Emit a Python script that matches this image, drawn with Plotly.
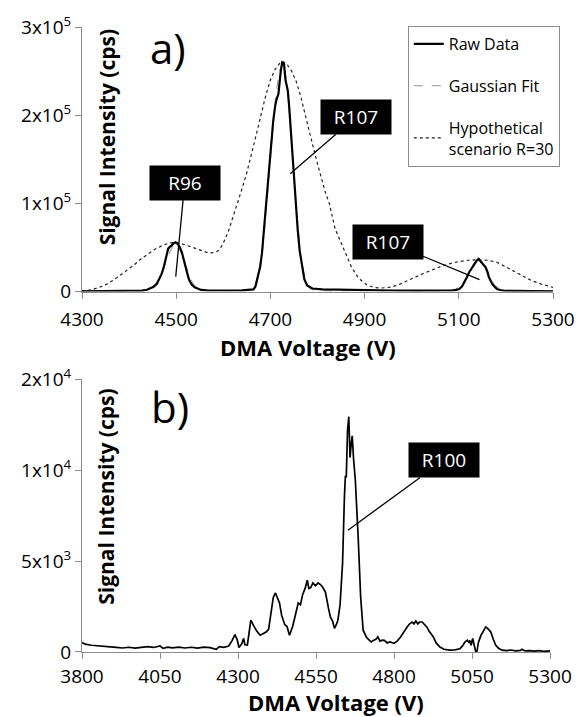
import plotly.graph_objects as go

# ---------------- Panel a) : DMA voltage scan, three mobility peaks ----------------
A_RAW_V = [4300, 4320, 4340, 4360, 4380, 4400, 4415, 4428, 4438, 4445, 4452, 4459, 4464,
           4469, 4473, 4476, 4480, 4483, 4487, 4490, 4494, 4499, 4503, 4508, 4512, 4515,
           4518, 4521, 4525, 4528, 4533, 4539, 4546, 4553, 4565, 4580, 4600, 4620, 4640,
           4650, 4657, 4664, 4668, 4671, 4675, 4678, 4682, 4685, 4689, 4692, 4696, 4699,
           4703, 4706, 4710, 4713, 4717, 4719, 4722, 4725, 4729, 4732, 4735, 4737, 4740,
           4744, 4747, 4751, 4754, 4758, 4762, 4767, 4772, 4778, 4789, 4810, 4840, 4880,
           4920, 4960, 5000, 5040, 5070, 5087, 5095, 5101, 5107, 5112, 5117, 5122, 5128,
           5133, 5138, 5142, 5146, 5150, 5154, 5157, 5161, 5164, 5168, 5171, 5176, 5181,
           5188, 5195, 5220, 5250, 5280, 5300]
A_RAW_I = [300, 400, 350, 500, 450, 600, 700, 1100, 2000, 3400, 5500, 8700, 13500,
           20000, 26500, 33200, 42000, 48700, 51000, 52000, 54500, 55800, 54000, 50000, 44500, 37400,
           30500, 23800, 17500, 12500, 8000, 4900, 3000, 1900, 1300, 1100, 1000, 1200, 1300,
           1900, 2200, 2500, 5500, 12500, 19000, 27500, 43000, 61500, 84000, 106800, 130000, 152000,
           174000, 193700, 210000, 218000, 224000, 239000, 250000, 259700, 258000, 240000, 232000, 227600, 208700,
           178600, 150000, 120000, 95000, 70000, 47000, 28000, 14000, 7000, 3500, 2600, 2200, 2000,
           1500, 1200, 1000, 1000, 1100, 1300, 2000, 3000, 6000, 10500, 16000, 21900, 27000,
           31400, 35000, 37000, 34500, 31400, 30000, 27500, 22000, 16200, 12000, 8700, 5500, 3000,
           1800, 1100, 700, 500, 400, 350]

A_FIT_V = [4300, 4420, 4440, 4455, 4465, 4475, 4485, 4492, 4498, 4504, 4511, 4521, 4531,
           4541, 4556, 4580, 4640, 4660, 4670, 4680, 4690, 4700, 4710, 4718, 4727, 4736,
           4744, 4754, 4764, 4774, 4784, 4794, 4820, 5060, 5090, 5105, 5115, 5125, 5133,
           5141, 5149, 5157, 5167, 5177, 5192, 5220, 5300]
A_FIT_I = [800, 900, 2500, 8000, 16000, 28500, 43000, 51500, 55500, 52000, 43000, 27000, 13500,
           5500, 1800, 900, 900, 1500, 6000, 30000, 85000, 155000, 215000, 248000, 260000, 235000,
           178000, 100000, 42000, 13000, 3500, 1500, 900, 900, 1800, 6500, 15000, 26000, 33000,
           36500, 33500, 26000, 15000, 6500, 1800, 900, 800]

A_HYPO_V = [4300, 4320, 4337, 4355, 4372, 4390, 4410, 4425, 4440, 4455, 4470, 4485, 4497,
            4510, 4525, 4540, 4555, 4565, 4575, 4585, 4592, 4600, 4610, 4620, 4630, 4640,
            4650, 4660, 4670, 4680, 4690, 4700, 4710, 4720, 4726, 4735, 4745, 4755, 4765,
            4775, 4785, 4796, 4805, 4817, 4825, 4837, 4851, 4860, 4872, 4885, 4893, 4905,
            4921, 4935, 4956, 4975, 4990, 5010, 5025, 5040, 5060, 5080, 5100, 5120, 5140,
            5160, 5180, 5200, 5215, 5235, 5254, 5275, 5300]
A_HYPO_I = [500, 2000, 4800, 9000, 15000, 22000, 30000, 37000, 43000, 48000, 52000, 55000, 55800,
            54500, 52000, 49500, 46500, 44500, 43800, 45000, 47500, 55000, 67000, 83000, 100000, 117000,
            135000, 155000, 178000, 200000, 222000, 240000, 252000, 259000, 261000, 258000, 250000, 238000, 220000,
            198000, 175000, 153000, 135000, 112000, 100000, 72000, 54000, 42000, 28000, 17000, 12500, 7500,
            4500, 4000, 5000, 8500, 12500, 17000, 20500, 24000, 28000, 31500, 34000, 35500, 36000,
            35500, 33500, 28000, 23500, 18000, 12500, 8500, 4800]

A_X_TICKS = [4300, 4500, 4700, 4900, 5100, 5300]
A_Y_TICKS = [0, 100000, 200000, 300000]
A_Y_TEXT = ["0", "1x10<sup>5</sup>", "2x10<sup>5</sup>", "3x10<sup>5</sup>"]

# peak labels: (text, voltage, intensity, dx, dy)
A_LABELS = [("R96", 4499, 17000, 9, -94),
            ("R107", 4742, 133600, 66, -57),
            ("R107", 5144, 13600, -92, -38)]

# ---------------- Panel b) ----------------
B_V = [3800, 3810, 3830, 3850, 3870, 3890, 3910, 3930, 3950, 3970, 3990, 4010, 4030, 4050,
       4060, 4075, 4090, 4110, 4130, 4150, 4170, 4190, 4210, 4230, 4240, 4255, 4270, 4280,
       4290, 4297, 4303, 4312, 4318, 4322, 4330, 4335, 4341, 4350, 4360, 4371, 4380, 4390,
       4398, 4405, 4413, 4420, 4426, 4433, 4440, 4450, 4457, 4465, 4475, 4486, 4493, 4500,
       4507, 4515, 4522, 4527, 4533, 4540, 4548, 4557, 4565, 4572, 4580, 4590, 4596, 4603,
       4609, 4615, 4620, 4627, 4635, 4641, 4644, 4647, 4651, 4655, 4659, 4663, 4666, 4670,
       4676, 4685, 4693, 4701, 4712, 4718, 4727, 4735, 4742, 4748, 4755, 4762, 4769, 4778,
       4787, 4800, 4810, 4821, 4830, 4842, 4850, 4858, 4864, 4870, 4876, 4882, 4890, 4898,
       4905, 4912, 4920, 4926, 4935, 4947, 4960, 4978, 4995, 5011, 5020, 5027, 5035, 5040,
       5043, 5047, 5052, 5057, 5062, 5066, 5070, 5078, 5086, 5094, 5100, 5110, 5118, 5126,
       5135, 5146, 5160, 5175, 5190, 5205, 5210, 5220, 5235, 5250, 5265, 5280, 5300]
B_I = [520, 430, 370, 350, 300, 280, 250, 220, 260, 210, 240, 300, 250, 330,
       200, 270, 230, 270, 220, 260, 210, 270, 240, 150, 300, 260, 330, 600,
       950, 700, 250, 450, 750, 400, 380, 1100, 1750, 1450, 1150, 920, 1000, 1100,
       1250, 2000, 3000, 3250, 2950, 2700, 2000, 1500, 1400, 920, 1400, 2100, 2700, 2600,
       3150, 3500, 3950, 3500, 3550, 3800, 3650, 3800, 3700, 3550, 3300, 2400, 1930, 1700,
       1300, 1500, 1750, 2600, 4870, 8540, 9650, 9650, 12200, 12950, 10700, 11500, 11900, 10700,
       9450, 6340, 3030, 1200, 800, 700, 550, 650, 700, 830, 600, 650, 640, 500,
       550, 480, 600, 830, 1100, 1380, 1550, 1650, 1550, 1700, 1550, 1650, 1650, 1500,
       1380, 1150, 950, 830, 500, 275, 150, 100, 120, 180, 350, 550, 650, 500,
       640, 370, 740, 300, 0, 50, 500, 900, 1150, 1380, 1300, 1100, 700, 370,
       200, 100, 80, 110, 60, 90, 150, 60, 80, 50, 70, 40, 60]

B_X_TICKS = [3800, 4050, 4300, 4550, 4800, 5050, 5300]
B_Y_TICKS = [0, 5000, 10000, 15000]
B_Y_TEXT = ["0", "5x10<sup>3</sup>", "1x10<sup>4</sup>", "2x10<sup>4</sup>"]

B_LABELS = [("R100", 4652, 6700, 96, -70)]

FONT = "Open Sans"
AXIS_GREY = "#8c8c8c"

fig = go.Figure()

fig.add_trace(go.Scatter(x=A_HYPO_V, y=A_HYPO_I, mode="lines", name="Hypothetical<br>scenario R=30",
                         line=dict(color="#222222", width=1.2, dash="dot"),
                         legendgroup="hypo", legendrank=3, xaxis="x", yaxis="y"))
fig.add_trace(go.Scatter(x=A_FIT_V, y=A_FIT_I, mode="lines", name="Gaussian Fit",
                         line=dict(color="#a8a8a8", width=1.2, dash="dash"),
                         legendgroup="fit", legendrank=2, xaxis="x", yaxis="y"))
fig.add_trace(go.Scatter(x=A_RAW_V, y=A_RAW_I, mode="lines", name="Raw Data",
                         line=dict(color="black", width=2.2),
                         legendgroup="raw", legendrank=1, xaxis="x", yaxis="y"))
fig.add_trace(go.Scatter(x=B_V, y=B_I, mode="lines", showlegend=False,
                         line=dict(color="black", width=1.7), xaxis="x2", yaxis="y2"))

axis_common = dict(showline=True, linecolor=AXIS_GREY, linewidth=1, ticks="outside",
                   ticklen=6, tickcolor=AXIS_GREY, showgrid=False, zeroline=False,
                   tickfont=dict(family=FONT, size=19, color="black"))

# plot area spans x 82..562 px and y 26..652 px
TOP, BOTTOM = 26, 652
H = BOTTOM - TOP


def py(pix):
    return (BOTTOM - pix) / H


def px(pix):
    return (pix - 82) / 480


fig.update_layout(
    width=587, height=717,
    margin=dict(l=82, r=25, t=TOP, b=717 - BOTTOM),
    paper_bgcolor="white", plot_bgcolor="white",
    font=dict(family=FONT, color="black"),
    xaxis=dict(domain=[0, 1], range=[4300, 5300], tickvals=A_X_TICKS, anchor="y",
               ticklabelstandoff=5, **axis_common),
    yaxis=dict(domain=[py(291), 1], range=[0, 300000], tickvals=A_Y_TICKS, ticktext=A_Y_TEXT,
               anchor="x", **axis_common),
    xaxis2=dict(domain=[0, 477 / 480], range=[3800, 5300], tickvals=B_X_TICKS, anchor="y2",
                ticklabelstandoff=1, **axis_common),
    yaxis2=dict(domain=[0, py(379)], range=[0, 15000], tickvals=B_Y_TICKS, ticktext=B_Y_TEXT,
                anchor="x2", **axis_common),
    showlegend=True,
    legend=dict(x=px(414), y=py(25), xanchor="left", yanchor="top",
                bordercolor="#8c8c8c", borderwidth=1, bgcolor="white",
                font=dict(family=FONT, size=16, color="black"),
                traceorder="grouped", tracegroupgap=18, itemwidth=30),
)

annotations = []


def free_text(text, xpix, ypix, size, angle=0):
    return dict(text=text, x=px(xpix), y=py(ypix), xref="paper", yref="paper",
                xanchor="center", yanchor="middle", textangle=angle, showarrow=False,
                font=dict(size=size, family=FONT, color="black"))


# panel letters
annotations.append(free_text("a)", 170, 47, 42))
annotations.append(free_text("b)", 172, 406, 42))
# axis titles
for ycen in (137, 497):
    annotations.append(free_text("<b>Signal Intensity (cps)</b>", 107, ycen, 21, -90))
annotations.append(free_text("<b>DMA Voltage (V)</b>", 312, 347, 22))
annotations.append(free_text("<b>DMA Voltage (V)</b>", 341, 702, 22))
# peak resolution labels
for labels, xr, yr in ((A_LABELS, "x", "y"), (B_LABELS, "x2", "y2")):
    for text, v, i, dx, dy in labels:
        annotations.append(dict(text=text, x=v, y=i, xref=xr, yref=yr, ax=dx, ay=dy,
                                showarrow=True, arrowhead=0, arrowwidth=1.3, arrowcolor="black",
                                bgcolor="black", width=68, height=32, borderpad=1,
                                font=dict(size=19, family=FONT, color="white")))
fig.update_layout(annotations=annotations)

fig.write_html("out.html")
